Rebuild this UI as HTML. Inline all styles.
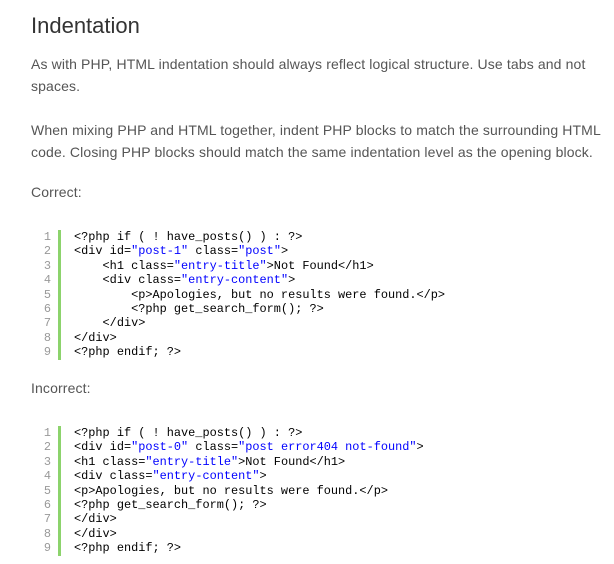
<!DOCTYPE html>
<html><head><style>
body{margin:0;width:614px;height:564px;background:#fff;font-family:"Liberation Sans",sans-serif;color:#555;position:relative;overflow:hidden}
.a{position:absolute;white-space:nowrap}
h1{position:absolute;left:31px;top:13px;margin:0;font-weight:normal;font-size:22px;color:#333}
.p{font-size:14px;letter-spacing:0.13px;line-height:22px;left:31px}
.code{position:absolute;left:34px;font-family:"Liberation Mono",monospace;font-size:11.9px;line-height:14.4px;color:#000}
.ln{position:absolute;left:0;width:17px;text-align:right;color:#999}
.bar{position:absolute;left:24px;width:3px;background:#8cd36c;top:0}
.tx{position:absolute;left:40px;white-space:pre}
.s{color:#0000ff}
</style></head><body>
<h1>Indentation</h1>
<div class="a p" style="top:53px">As with PHP, HTML indentation should always reflect logical structure. Use tabs and not<br>spaces.</div>
<div class="a p" style="top:119px">When mixing PHP and HTML together, indent PHP blocks to match the surrounding HTML<br>code. Closing PHP blocks should match the same indentation level as the opening block.</div>
<div class="a p" style="top:181px">Correct:</div>
<div class="code" style="top:230px">
<div class="bar" style="height:130px"></div>
<div class="ln">1<br>2<br>3<br>4<br>5<br>6<br>7<br>8<br>9</div>
<div class="tx">&lt;?php if ( ! have_posts() ) : ?&gt;
&lt;div id=<span class="s">"post-1"</span> class=<span class="s">"post"</span>&gt;
    &lt;h1 class=<span class="s">"entry-title"</span>&gt;Not Found&lt;/h1&gt;
    &lt;div class=<span class="s">"entry-content"</span>&gt;
        &lt;p&gt;Apologies, but no results were found.&lt;/p&gt;
        &lt;?php get_search_form(); ?&gt;
    &lt;/div&gt;
&lt;/div&gt;
&lt;?php endif; ?&gt;</div>
</div>
<div class="a p" style="top:377px">Incorrect:</div>
<div class="code" style="top:426px">
<div class="bar" style="height:130px"></div>
<div class="ln">1<br>2<br>3<br>4<br>5<br>6<br>7<br>8<br>9</div>
<div class="tx">&lt;?php if ( ! have_posts() ) : ?&gt;
&lt;div id=<span class="s">"post-0"</span> class=<span class="s">"post error404 not-found"</span>&gt;
&lt;h1 class=<span class="s">"entry-title"</span>&gt;Not Found&lt;/h1&gt;
&lt;div class=<span class="s">"entry-content"</span>&gt;
&lt;p&gt;Apologies, but no results were found.&lt;/p&gt;
&lt;?php get_search_form(); ?&gt;
&lt;/div&gt;
&lt;/div&gt;
&lt;?php endif; ?&gt;</div>
</div>
</body></html>
